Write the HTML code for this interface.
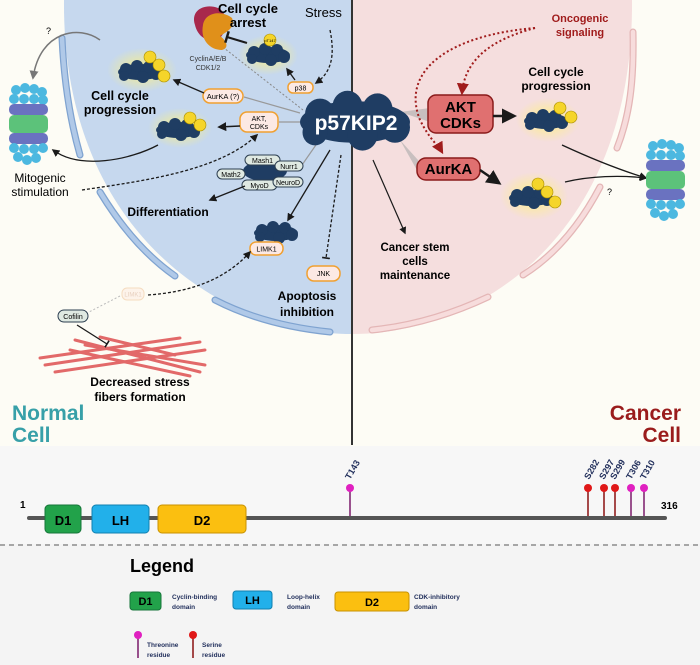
<!DOCTYPE html>
<html><head><meta charset="utf-8"><style>
html,body{margin:0;padding:0;background:#fdfcf5;}
svg{display:block;font-family:"Liberation Sans",sans-serif;}
.b{font-weight:bold;}
</style></head><body>
<svg width="700" height="665" viewBox="0 0 700 665" xmlns="http://www.w3.org/2000/svg">
<defs>
<radialGradient id="glow"><stop offset="0" stop-color="#fff27a" stop-opacity=".9"/><stop offset="1" stop-color="#fff27a" stop-opacity="0"/></radialGradient>
<marker id="ah" viewBox="0 0 10 10" refX="8" refY="5" markerWidth="6" markerHeight="6" orient="auto"><path d="M0,0L10,5L0,10z" fill="#1a1a1a"/></marker>
<marker id="ahr" viewBox="0 0 10 10" refX="8" refY="5" markerWidth="6" markerHeight="6" orient="auto"><path d="M0,0L10,5L0,10z" fill="#a01c1c"/></marker>
<marker id="ahg" viewBox="0 0 10 10" refX="8" refY="5" markerWidth="6" markerHeight="6" orient="auto"><path d="M0,0L10,5L0,10z" fill="#777"/></marker>
<marker id="bar" viewBox="0 0 10 10" refX="5" refY="5" markerWidth="6" markerHeight="6" orient="auto"><path d="M5,0L5,10" stroke="#1a1a1a" stroke-width="2"/></marker>
<g id="cloud" fill="#1f3d63">
<ellipse cx="0" cy="0" rx="22" ry="8"/><circle cx="-14" cy="-3" r="6"/><circle cx="-3" cy="-6" r="6"/><circle cx="9" cy="-5" r="6"/><circle cx="16" cy="2" r="6"/><circle cx="-16" cy="4" r="5"/><circle cx="3" cy="5" r="6"/>
</g>
<g id="ball"><circle r="6" fill="#f5d52a" stroke="#a98d00" stroke-width=".6"/></g>
<g id="stack">
<g fill="#4cb8e0"><circle cx="0" cy="0" r="5"/><circle cx="9" cy="-2" r="5"/><circle cx="18" cy="-1" r="5"/><circle cx="26" cy="2" r="5"/><circle cx="-2" cy="9" r="5"/><circle cx="8" cy="9" r="5"/><circle cx="18" cy="9" r="5"/><circle cx="27" cy="10" r="5"/></g>
<rect x="-7" y="14" width="39" height="11" rx="5" fill="#6a72c0"/>
<rect x="-7" y="25" width="39" height="18" rx="5" fill="#5cc27a"/>
<rect x="-7" y="43" width="39" height="11" rx="5" fill="#6a72c0"/>
<g fill="#4cb8e0"><circle cx="-2" cy="58" r="5"/><circle cx="8" cy="59" r="5"/><circle cx="18" cy="59" r="5"/><circle cx="27" cy="58" r="5"/><circle cx="2" cy="67" r="5"/><circle cx="11" cy="70" r="5"/><circle cx="20" cy="68" r="5"/></g>
</g>
</defs>

<!-- cells -->
<path d="M64,0 C62,230 220,334 352,334 L352,0 Z" fill="#c6d8ee"/>
<path d="M632,0 C634,230 484,334 352,334 L352,0 Z" fill="#f5dede"/>
<g fill="none" stroke-linecap="round">
<g stroke="#7fa3d0" stroke-width="7"><path d="M62,38 C64,80 70,120 80,155"/><path d="M100,192 C120,225 145,255 175,276"/><path d="M215,300 C250,318 290,328 330,332"/></g>
<g stroke="#b0c9e8" stroke-width="4.5"><path d="M62,38 C64,80 70,120 80,155"/><path d="M100,192 C120,225 145,255 175,276"/><path d="M215,300 C250,318 290,328 330,332"/></g>
<g stroke="#e4b6b6" stroke-width="7"><path d="M633,32 C634,80 630,115 617,148"/><path d="M600,187 C580,225 555,255 523,275"/><path d="M488,297 C450,315 410,326 372,330"/></g>
<g stroke="#f7dcdc" stroke-width="4.5"><path d="M633,32 C634,80 630,115 617,148"/><path d="M600,187 C580,225 555,255 523,275"/><path d="M488,297 C450,315 410,326 372,330"/></g>
</g>
<line x1="352" y1="0" x2="352" y2="445" stroke="#333" stroke-width="2"/>

<!-- left elements -->
<path d="M195,25 C190,10 205,3 218,8 C228,12 228,30 220,38 C210,44 198,38 195,25Z" fill="#a8284c"/>
<path d="M203,25 C205,12 222,10 232,18 C236,28 226,32 220,36 C226,40 230,48 222,50 C210,50 200,40 203,25Z" fill="#e0901a"/>
<text x="248" y="13" class="b" font-size="13" text-anchor="middle">Cell cycle</text>
<text x="248" y="27" class="b" font-size="13" text-anchor="middle">arrest</text>
<text x="305" y="17" font-size="13">Stress</text>
<line x1="247" y1="43" x2="227" y2="37" stroke="#1a1a1a" stroke-width="2" marker-end="url(#bar)"/>
<ellipse cx="268" cy="55" rx="30" ry="20" fill="url(#glow)"/>
<use href="#cloud" x="268" y="55"/>
<use href="#ball" x="270" y="40"/><text x="270" y="42" font-size="4" text-anchor="middle">pT147</text>
<text x="208" y="61" font-size="7" fill="#333" text-anchor="middle">CyclinA/E/B</text>
<text x="208" y="70" font-size="7" fill="#333" text-anchor="middle">CDK1/2</text>
<line x1="303" y1="110" x2="224" y2="48" stroke="#888" stroke-dasharray="2,2"/>
<path d="M330,30 C335,55 332,72 316,83" fill="none" stroke="#1a1a1a" stroke-width="1.3" stroke-dasharray="3,2" marker-end="url(#ah)"/>
<rect x="288" y="82" width="25" height="11" rx="5" fill="#fce9e4" stroke="#f0a030" stroke-width="1.5"/>
<text x="300.5" y="90.5" font-size="7" text-anchor="middle">p38</text>
<line x1="295" y1="80" x2="287" y2="69" stroke="#1a1a1a" stroke-width="1.3" marker-end="url(#ah)"/>

<ellipse cx="142" cy="70" rx="35" ry="22" fill="url(#glow)"/>
<use href="#cloud" x="140" y="72"/>
<use href="#ball" x="150" y="57"/><use href="#ball" x="159" y="65"/><use href="#ball" x="164" y="76"/>
<line x1="300" y1="113" x2="244" y2="97" stroke="#999" stroke-width="1.2"/>
<rect x="203" y="89" width="40" height="14" rx="7" fill="#fce9e4" stroke="#f0a030" stroke-width="1.5"/>
<text x="223" y="99" font-size="7.5" text-anchor="middle">AurKA (?)</text>
<line x1="204" y1="93" x2="174" y2="80" stroke="#1a1a1a" stroke-width="1.3" marker-end="url(#ah)"/>
<text x="120" y="100" class="b" font-size="12.5" text-anchor="middle">Cell cycle</text>
<text x="120" y="114" class="b" font-size="12.5" text-anchor="middle">progression</text>
<ellipse cx="180" cy="128" rx="32" ry="20" fill="url(#glow)"/>
<use href="#cloud" x="178" y="130"/>
<use href="#ball" x="190" y="118"/><use href="#ball" x="200" y="125"/>
<line x1="300" y1="122" x2="279" y2="122" stroke="#999" stroke-width="1.2"/>
<rect x="240" y="112" width="38" height="20" rx="7" fill="#fce9e4" stroke="#f0a030" stroke-width="1.5"/>
<text x="259" y="121" font-size="7" text-anchor="middle">AKT,</text>
<text x="259" y="129" font-size="7" text-anchor="middle">CDKs</text>
<line x1="240" y1="126" x2="219" y2="127" stroke="#1a1a1a" stroke-width="1.5" marker-end="url(#ah)"/>

<use href="#stack" x="16" y="90"/>
<path d="M100,40 C80,25 40,30 33,78" fill="none" stroke="#777" stroke-width="1.5" marker-end="url(#ahg)"/>
<text x="46" y="34" font-size="9">?</text>
<path d="M158,145 C130,160 80,170 53,150" fill="none" stroke="#1a1a1a" stroke-width="1.3" marker-end="url(#ah)"/>
<text x="40" y="182" font-size="12" text-anchor="middle">Mitogenic</text>
<text x="40" y="196" font-size="12" text-anchor="middle">stimulation</text>
<path d="M82,190 C150,180 220,170 257,135" fill="none" stroke="#1a1a1a" stroke-width="1.3" stroke-dasharray="3,2" marker-end="url(#ah)"/>

<line x1="318" y1="142" x2="302" y2="165" stroke="#999" stroke-width="1.2"/>
<ellipse cx="265" cy="171" rx="22" ry="10" fill="#1f3d63"/>
<g font-size="7" text-anchor="middle" stroke-width="1">
<rect x="245" y="155" width="35" height="10" rx="5" fill="#dfe9e2" stroke="#2c3e50"/><text x="262.5" y="163">Mash1</text>
<rect x="275" y="161" width="28" height="10" rx="5" fill="#dfe9e2" stroke="#2c3e50"/><text x="289" y="169">Nurr1</text>
<rect x="217" y="169" width="28" height="10" rx="5" fill="#dfe9e2" stroke="#2c3e50"/><text x="231" y="177">Math2</text>
<rect x="242" y="180" width="35" height="10" rx="5" fill="#dfe9e2" stroke="#2c3e50"/><text x="259.5" y="188">MyoD</text>
<rect x="273" y="177" width="30" height="10" rx="5" fill="#dfe9e2" stroke="#2c3e50"/><text x="288" y="185">NeuroD</text>
</g>
<line x1="245" y1="186" x2="210" y2="200" stroke="#1a1a1a" stroke-width="1.3" marker-end="url(#ah)"/>
<text x="168" y="216" class="b" font-size="12" text-anchor="middle">Differentiation</text>

<line x1="330" y1="150" x2="288" y2="220" stroke="#1a1a1a" stroke-width="1.3" marker-end="url(#ah)"/>
<use href="#cloud" x="276" y="233"/>
<rect x="250" y="242" width="33" height="13" rx="6" fill="#fce9e4" stroke="#f0a030" stroke-width="1.5"/>
<text x="266.5" y="251.5" font-size="7" text-anchor="middle">LIMK1</text>
<line x1="341" y1="155" x2="326" y2="258" stroke="#1a1a1a" stroke-width="1.3" stroke-dasharray="3,2" marker-end="url(#bar)"/>
<rect x="307" y="266" width="33" height="15" rx="7" fill="#fce9e4" stroke="#f0a030" stroke-width="1.5"/>
<text x="323.5" y="276" font-size="7" text-anchor="middle">JNK</text>
<text x="307" y="300" class="b" font-size="12" text-anchor="middle">Apoptosis</text>
<text x="307" y="316" class="b" font-size="12" text-anchor="middle">inhibition</text>

<rect x="122" y="288" width="22" height="12" rx="5" fill="#fdf3ea" stroke="#f5dcc0"/>
<text x="133" y="296.5" font-size="6" fill="#e8d0c0" text-anchor="middle">LIMK1</text>
<path d="M148,295 C190,292 225,280 250,252" fill="none" stroke="#1a1a1a" stroke-width="1.3" stroke-dasharray="3,2" marker-end="url(#ah)"/>
<line x1="120" y1="296" x2="89" y2="312" stroke="#bbb" stroke-dasharray="2,2"/>
<rect x="58" y="310" width="30" height="12" rx="6" fill="#dfe9e2" stroke="#2c3e50"/>
<text x="73" y="319" font-size="7" text-anchor="middle">Cofilin</text>
<g stroke="#e05a5a" stroke-width="3" stroke-linecap="round" opacity=".9">
<line x1="45" y1="365" x2="200" y2="342"/><line x1="55" y1="372" x2="205" y2="350"/><line x1="40" y1="358" x2="180" y2="338"/>
<line x1="75" y1="340" x2="200" y2="372"/><line x1="85" y1="345" x2="205" y2="365"/><line x1="70" y1="350" x2="190" y2="376"/>
<line x1="100" y1="337" x2="175" y2="355"/>
</g>
<line x1="77" y1="325" x2="107" y2="344" stroke="#1a1a1a" stroke-width="1.3" marker-end="url(#bar)"/>
<text x="140" y="386" class="b" font-size="12" text-anchor="middle">Decreased stress</text>
<text x="140" y="401" class="b" font-size="12" text-anchor="middle">fibers formation</text>
<text x="12" y="420" class="b" font-size="21" fill="#37a0a8">Normal</text>
<text x="12" y="442" class="b" font-size="21" fill="#37a0a8">Cell</text>

<!-- right -->
<path d="M400,112 L430,108 L430,122Z" fill="#aaa" opacity=".6"/>
<path d="M400,140 L418,160 L418,172Z" fill="#aaa" opacity=".6"/>
<text x="580" y="22" class="b" font-size="11" fill="#a01c1c" text-anchor="middle">Oncogenic</text>
<text x="580" y="36" class="b" font-size="11" fill="#a01c1c" text-anchor="middle">signaling</text>
<path d="M535,28 C490,40 465,60 462,93" fill="none" stroke="#a01c1c" stroke-width="2" stroke-dasharray="2,2.5" marker-end="url(#ahr)"/>
<path d="M535,28 C450,35 400,70 420,120 C430,140 438,145 442,152" fill="none" stroke="#a01c1c" stroke-width="2" stroke-dasharray="2,2.5" marker-end="url(#ahr)"/>
<use href="#cloud" transform="translate(355,122) scale(2.5,2.6)"/>
<text x="356" y="130" class="b" font-size="21" fill="#fff" text-anchor="middle">p57KIP2</text>
<rect x="428" y="95" width="65" height="38" rx="8" fill="#e07070" stroke="#8a1a1a" stroke-width="1.5"/>
<text x="460.5" y="112" class="b" font-size="15" text-anchor="middle">AKT</text>
<text x="460.5" y="128" class="b" font-size="15" text-anchor="middle">CDKs</text>
<line x1="493" y1="116" x2="514" y2="116" stroke="#1a1a1a" stroke-width="2.5" marker-end="url(#ah)"/>
<text x="556" y="76" class="b" font-size="12" text-anchor="middle">Cell cycle</text>
<text x="556" y="90" class="b" font-size="12" text-anchor="middle">progression</text>
<ellipse cx="548" cy="120" rx="32" ry="22" fill="url(#glow)"/>
<use href="#cloud" x="546" y="121"/>
<use href="#ball" x="560" y="108"/><use href="#ball" x="571" y="117"/>
<rect x="417" y="158" width="63" height="22" rx="9" fill="#e07070" stroke="#8a1a1a" stroke-width="1.5"/>
<text x="448.5" y="174" class="b" font-size="15" text-anchor="middle">AurKA</text>
<line x1="480" y1="170" x2="499" y2="183" stroke="#1a1a1a" stroke-width="2.5" marker-end="url(#ah)"/>
<ellipse cx="534" cy="196" rx="34" ry="24" fill="url(#glow)"/>
<use href="#cloud" x="531" y="198"/>
<use href="#ball" x="538" y="184"/><use href="#ball" x="547" y="192"/><use href="#ball" x="555" y="202"/>
<path d="M562,145 C590,158 620,170 646,178" fill="none" stroke="#1a1a1a" stroke-width="1.3" marker-end="url(#ah)"/>
<path d="M565,182 C590,176 620,175 646,178" fill="none" stroke="#1a1a1a" stroke-width="1.3" marker-end="url(#ah)"/>
<text x="607" y="195" font-size="9">?</text>
<use href="#stack" x="653" y="146"/>
<line x1="373" y1="160" x2="405" y2="233" stroke="#1a1a1a" stroke-width="1.2" marker-end="url(#ah)"/>
<text x="415" y="251" class="b" font-size="11.5" text-anchor="middle">Cancer stem</text>
<text x="415" y="265" class="b" font-size="11.5" text-anchor="middle">cells</text>
<text x="415" y="279" class="b" font-size="11.5" text-anchor="middle">maintenance</text>
<text x="681" y="420" class="b" font-size="21" fill="#9a1c1c" text-anchor="end">Cancer</text>
<text x="681" y="442" class="b" font-size="21" fill="#9a1c1c" text-anchor="end">Cell</text>

<!-- bottom panel -->
<rect x="0" y="446" width="700" height="219" fill="#f4f4f4"/>
<rect x="0" y="446" width="700" height="98" fill="#f7f7f7"/>
<line x1="0" y1="545" x2="700" y2="545" stroke="#777" stroke-width="1.3" stroke-dasharray="5,4"/>
<text x="20" y="508" class="b" font-size="10">1</text>
<text x="661" y="509" class="b" font-size="10">316</text>
<line x1="29" y1="518" x2="665" y2="518" stroke="#555" stroke-width="4" stroke-linecap="round"/>
<rect x="45" y="505" width="36" height="28" rx="4" fill="#22a24a" stroke="#16753a"/>
<text x="63" y="525" class="b" font-size="13" text-anchor="middle">D1</text>
<rect x="92" y="505" width="57" height="28" rx="4" fill="#22b0ea" stroke="#1080b0"/>
<text x="120.5" y="525" class="b" font-size="13" text-anchor="middle">LH</text>
<rect x="158" y="505" width="88" height="28" rx="4" fill="#fbbf10" stroke="#c89200"/>
<text x="202" y="525" class="b" font-size="13" text-anchor="middle">D2</text>
<g stroke-width="1.5">
<line x1="350" y1="489" x2="350" y2="516" stroke="#7a1a6a"/><circle cx="350" cy="488" r="4" fill="#e020c0"/>
<line x1="588" y1="489" x2="588" y2="516" stroke="#8a1010"/><circle cx="588" cy="488" r="4" fill="#e01818"/>
<line x1="604" y1="489" x2="604" y2="516" stroke="#8a1010"/><circle cx="604" cy="488" r="4" fill="#e01818"/>
<line x1="615" y1="489" x2="615" y2="516" stroke="#8a1010"/><circle cx="615" cy="488" r="4" fill="#e01818"/>
<line x1="631" y1="489" x2="631" y2="516" stroke="#7a1a6a"/><circle cx="631" cy="488" r="4" fill="#e020c0"/>
<line x1="644" y1="489" x2="644" y2="516" stroke="#7a1a6a"/><circle cx="644" cy="488" r="4" fill="#e020c0"/>
</g>
<g font-size="9" class="b" fill="#1f2d5a">
<text transform="translate(350,480) rotate(-60)">T143</text>
<text transform="translate(589,480) rotate(-60)">S282</text>
<text transform="translate(604,480) rotate(-60)">S297</text>
<text transform="translate(615,480) rotate(-60)">S299</text>
<text transform="translate(631,480) rotate(-60)">T306</text>
<text transform="translate(645,480) rotate(-60)">T310</text>
</g>
<text x="130" y="572" class="b" font-size="18">Legend</text>
<rect x="130" y="592" width="31" height="18" rx="3" fill="#22a24a" stroke="#16753a"/>
<text x="145.5" y="605" class="b" font-size="11" text-anchor="middle">D1</text>
<rect x="233" y="591" width="39" height="18" rx="3" fill="#22b0ea" stroke="#1080b0"/>
<text x="252.5" y="604" class="b" font-size="11" text-anchor="middle">LH</text>
<rect x="335" y="592" width="74" height="19" rx="3" fill="#fbbf10" stroke="#c89200"/>
<text x="372" y="606" class="b" font-size="11" text-anchor="middle">D2</text>
<g font-size="6.5" class="b" fill="#1f2d5a">
<text x="172" y="599">Cyclin-binding</text><text x="172" y="609">domain</text>
<text x="287" y="599">Loop-helix</text><text x="287" y="609">domain</text>
<text x="414" y="599">CDK-inhibitory</text><text x="414" y="609">domain</text>
<text x="147" y="647">Threonine</text><text x="147" y="657">residue</text>
<text x="202" y="647">Serine</text><text x="202" y="657">residue</text>
</g>
<line x1="138" y1="636" x2="138" y2="658" stroke="#7a1a6a" stroke-width="1.5"/><circle cx="138" cy="635" r="4" fill="#e020c0"/>
<line x1="193" y1="636" x2="193" y2="658" stroke="#8a1010" stroke-width="1.5"/><circle cx="193" cy="635" r="4" fill="#e01818"/>
</svg>
</body></html>
